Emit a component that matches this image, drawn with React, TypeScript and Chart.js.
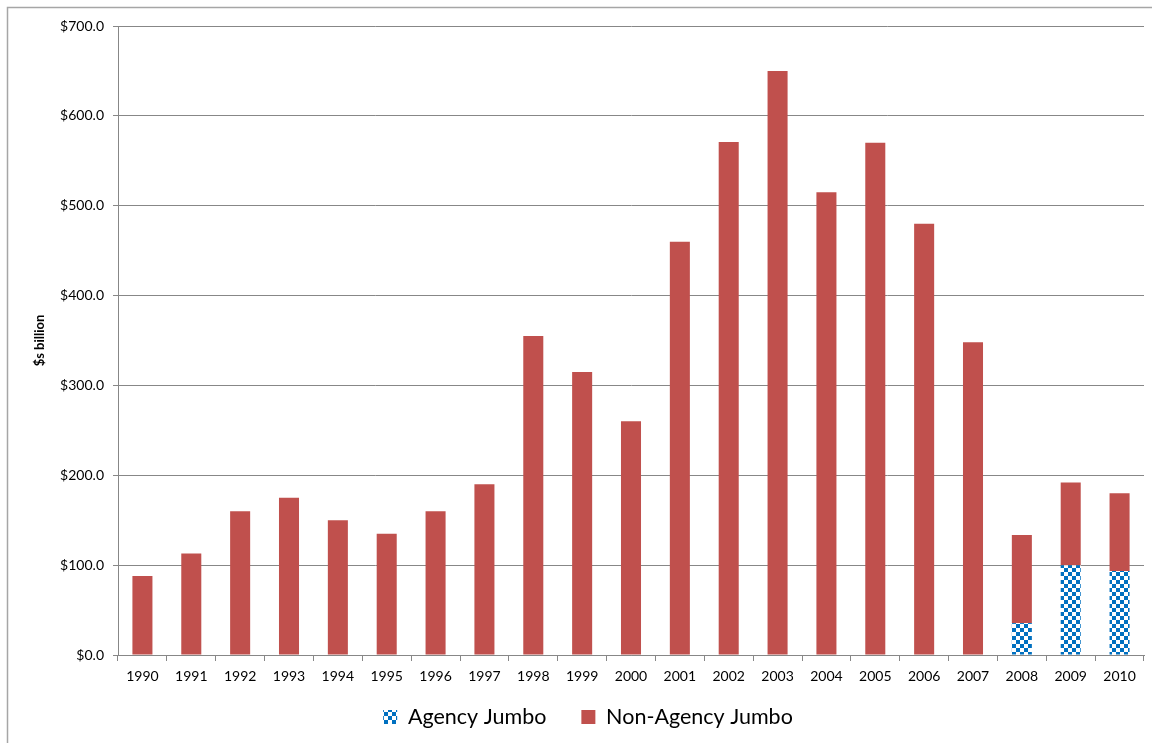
import React, { useEffect, useRef } from "react";
import { Chart, registerables } from "chart.js";

Chart.register(...registerables);

const years = ["1990","1991","1992","1993","1994","1995","1996","1997","1998","1999","2000","2001","2002","2003","2004","2005","2006","2007","2008","2009","2010"];
const agencyJumbo = [null,null,null,null,null,null,null,null,null,null,null,null,null,null,null,null,null,null,35.5,100,93.5];
const nonAgencyJumbo = [88,113,160,175,150,135,160,190,355,315,260,460,571,650,515,570,480,348,98,92,86.5];
const yTickMax = 700;
const yTickStep = 100;

function makeChecker(): CanvasPattern | string {
  const c = document.createElement("canvas");
  c.width = 8;
  c.height = 8;
  const g = c.getContext("2d");
  if (!g) return "#0070C0";
  g.fillStyle = "#ffffff";
  g.fillRect(0, 0, 8, 8);
  g.fillStyle = "#0070C0";
  g.fillRect(0, 0, 4, 4);
  g.fillRect(4, 4, 4, 4);
  const p = g.createPattern(c, "repeat");
  return p || "#0070C0";
}

const framePlugin = {
  id: "frame",
  beforeDraw(chart: any) {
    const ctx = chart.ctx;
    ctx.save();
    ctx.strokeStyle = "#a6a6a6";
    ctx.lineWidth = 1.5;
    ctx.beginPath();
    ctx.moveTo(7.5, chart.height + 5);
    ctx.lineTo(7.5, 7.5);
    ctx.lineTo(chart.width + 5, 7.5);
    ctx.stroke();
    ctx.restore();
  },
};

// Pull the legend up closer to the axis labels (legend padding is large for horizontal gaps)
const legendShiftPlugin = {
  id: "legendShift",
  afterLayout(chart: any) {
    if (chart.legend) {
      chart.legend.top = chart.chartArea.bottom + 16.25;
    }
  },
};

export default function App() {
  const ref = useRef<HTMLCanvasElement>(null);
  useEffect(() => {
    if (!ref.current) return;
    const checker = makeChecker();
    const chart = new Chart(ref.current, {
      type: "bar",
      data: {
        labels: years,
        datasets: [
          {
            label: "Agency Jumbo",
            data: agencyJumbo as any,
            backgroundColor: checker as any,
            borderWidth: 0,
            barPercentage: 0.41,
            categoryPercentage: 1,
          },
          {
            label: "Non-Agency Jumbo",
            data: nonAgencyJumbo,
            backgroundColor: "#C0504D",
            borderWidth: 0,
            barPercentage: 0.41,
            categoryPercentage: 1,
          },
        ],
      },
      options: {
        animation: false,
        responsive: false,
        layout: { padding: { left: 32, top: 26, right: 8, bottom: -18.5 } },
        plugins: {
          tooltip: { enabled: false },
          legend: {
            position: "bottom",
            labels: {
              boxWidth: 14,
              boxHeight: 14,
              padding: 35,
              color: "#000",
              font: { family: "Lato", size: 21.5 },
            },
          },
        },
        scales: {
          x: {
            stacked: true,
            offset: true,
            grid: {
              offset: true,
              drawOnChartArea: false,
              tickLength: 6,
              color: "#878787",
            },
            border: { color: "#878787" },
            ticks: {
              color: "#000",
              padding: 7,
              maxRotation: 0,
              font: { family: "Lato", size: 14 },
            },
            afterFit: (s: any) => {
              s.height = 40;
            },
          },
          y: {
            stacked: true,
            min: 0,
            max: yTickMax,
            grid: { color: "#878787", tickLength: 5 },
            border: { color: "#878787" },
            ticks: {
              stepSize: yTickStep,
              color: "#000",
              padding: 9,
              font: { family: "Lato", size: 14 },
              callback: (v: any) => "$" + Number(v).toFixed(1),
            },
            title: {
              display: true,
              text: "$s billion",
              color: "#000",
              font: { family: "Lato", size: 13, weight: "bold" },
              padding: { top: 0, bottom: 0 },
            },
            afterFit: (s: any) => {
              s.width = 86;
            },
          },
        },
      },
      plugins: [framePlugin, legendShiftPlugin],
    });
    return () => chart.destroy();
  }, []);
  return (
    <div style={{ position: "fixed", left: 0, top: 0, width: 1152, height: 743, background: "#fff" }}>
      <canvas ref={ref} width={1152} height={743} style={{ display: "block" }} />
    </div>
  );
}
